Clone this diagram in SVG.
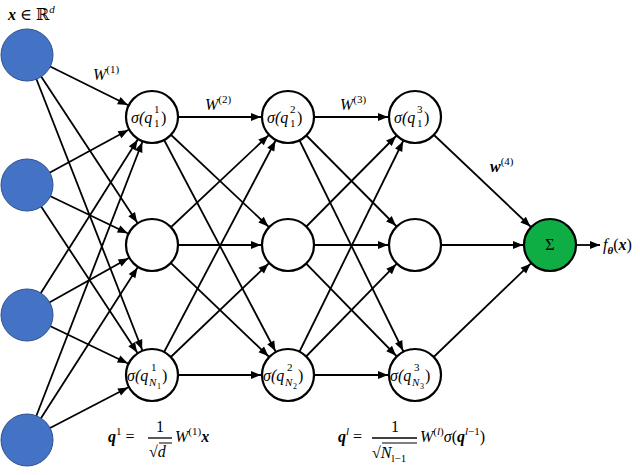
<svg xmlns="http://www.w3.org/2000/svg" width="640" height="475" viewBox="0 0 640 475">
<style>
.c{stroke:#000;stroke-width:2.2;}
.in{fill:#4472c4;stroke:#2f528f;stroke-width:1;}
.h{fill:#fff;}
.o{fill:#0fae45;}
.e line{stroke:#000;stroke-width:1.8;marker-end:url(#a);}
text{font-family:"Liberation Serif","DejaVu Serif",serif;font-style:italic;font-size:16px;fill:#000;}
.up{font-style:normal;}
.b{font-weight:bold;}
.s{font-size:11px;font-style:normal;}
.si{font-size:11px;}
.t{font-size:8px;font-style:normal;}
</style>
<defs>
<marker id="a" markerUnits="userSpaceOnUse" markerWidth="40" markerHeight="10" viewBox="0 0 40 10" refX="37" refY="5" orient="auto" style="overflow:visible"><path d="M0,1 L10,5 L0,9 z" fill="#000"/></marker>
<marker id="b" markerUnits="userSpaceOnUse" markerWidth="10" markerHeight="10" viewBox="0 0 10 10" refX="10" refY="5" orient="auto"><path d="M0,1 L10,5 L0,9 z" fill="#000"/></marker>
</defs>
<g id="connectors" class="e">
<line x1="27" y1="55" x2="152" y2="117"/><line x1="27" y1="55" x2="152" y2="245"/><line x1="27" y1="55" x2="152" y2="375"/>
<line x1="27" y1="185" x2="152" y2="117"/><line x1="27" y1="185" x2="152" y2="245"/><line x1="27" y1="185" x2="152" y2="375"/>
<line x1="27" y1="315" x2="152" y2="117"/><line x1="27" y1="315" x2="152" y2="245"/><line x1="27" y1="315" x2="152" y2="375"/>
<line x1="27" y1="440" x2="152" y2="117"/><line x1="27" y1="440" x2="152" y2="245"/><line x1="27" y1="440" x2="152" y2="375"/>
<line x1="152" y1="117" x2="288" y2="117"/><line x1="152" y1="117" x2="288" y2="245"/><line x1="152" y1="117" x2="288" y2="375"/>
<line x1="152" y1="245" x2="288" y2="117"/><line x1="152" y1="245" x2="288" y2="245"/><line x1="152" y1="245" x2="288" y2="375"/>
<line x1="152" y1="375" x2="288" y2="117"/><line x1="152" y1="375" x2="288" y2="245"/><line x1="152" y1="375" x2="288" y2="375"/>
<line x1="288" y1="117" x2="415" y2="117"/><line x1="288" y1="117" x2="415" y2="245"/><line x1="288" y1="117" x2="415" y2="375"/>
<line x1="288" y1="245" x2="415" y2="117"/><line x1="288" y1="245" x2="415" y2="245"/><line x1="288" y1="245" x2="415" y2="375"/>
<line x1="288" y1="375" x2="415" y2="117"/><line x1="288" y1="375" x2="415" y2="245"/><line x1="288" y1="375" x2="415" y2="375"/>
<line x1="415" y1="117" x2="550" y2="245"/><line x1="415" y1="245" x2="550" y2="245"/><line x1="415" y1="375" x2="550" y2="245"/>
<line x1="577" y1="245" x2="600" y2="245" style="marker-end:url(#b)"/>
</g>
<g id="x1"><circle class="in" cx="27" cy="55" r="26"/></g>
<g id="x2"><circle class="in" cx="27" cy="185" r="26"/></g>
<g id="x3"><circle class="in" cx="27" cy="315" r="26"/></g>
<g id="x4"><circle class="in" cx="27" cy="440" r="26"/></g>
<g id="h11"><circle class="c h" cx="152" cy="117" r="26"/><text x="131" y="123">σ(q</text><text class="s" x="154" y="127">1</text><text class="s" x="154" y="113">1</text><text class="up" x="161" y="123">)</text></g>
<g id="h12"><circle class="c h" cx="152" cy="245" r="26"/></g>
<g id="h13"><circle class="c h" cx="152" cy="375" r="26"/><text x="127" y="381">σ(q</text><text class="si" x="149" y="386">N</text><text class="t" x="157" y="389">1</text><text class="s" x="151" y="371">1</text><text class="up" x="162" y="381">)</text></g>
<g id="h21"><circle class="c h" cx="288" cy="117" r="26"/><text x="267" y="123">σ(q</text><text class="s" x="290" y="127">1</text><text class="s" x="290" y="113">2</text><text class="up" x="297" y="123">)</text></g>
<g id="h22"><circle class="c h" cx="288" cy="245" r="26"/></g>
<g id="h23"><circle class="c h" cx="288" cy="375" r="26"/><text x="263" y="381">σ(q</text><text class="si" x="285" y="386">N</text><text class="t" x="293" y="389">2</text><text class="s" x="287" y="371">2</text><text class="up" x="298" y="381">)</text></g>
<g id="h31"><circle class="c h" cx="415" cy="117" r="26"/><text x="394" y="123">σ(q</text><text class="s" x="417" y="127">1</text><text class="s" x="417" y="113">3</text><text class="up" x="424" y="123">)</text></g>
<g id="h32"><circle class="c h" cx="415" cy="245" r="26"/></g>
<g id="h33"><circle class="c h" cx="415" cy="375" r="26"/><text x="390" y="381">σ(q</text><text class="si" x="412" y="386">N</text><text class="t" x="420" y="389">3</text><text class="s" x="414" y="371">3</text><text class="up" x="425" y="381">)</text></g>
<g id="out"><circle class="c o" cx="550" cy="245" r="26"/><text class="up" x="550" y="250" text-anchor="middle" font-size="14">Σ</text></g>
<g id="labels">
<text x="8" y="20"><tspan class="b">x</tspan><tspan class="up"> ∈ ℝ</tspan><tspan class="si" dy="-7">d</tspan></text>
<text x="93" y="80">W<tspan class="s" dy="-7">(1)</tspan></text>
<text x="205" y="110">W<tspan class="s" dy="-7">(2)</tspan></text>
<text x="340" y="110">W<tspan class="s" dy="-7">(3)</tspan></text>
<text x="490" y="172" class="b">w<tspan class="s" dy="-7" font-weight="normal">(4)</tspan></text>
<text x="603" y="250" font-size="15">f<tspan class="si b" dy="4">θ</tspan><tspan dy="-4" class="up">(</tspan><tspan class="b">x</tspan><tspan class="up">)</tspan></text>
<text x="108" y="442" class="b" font-size="17">q<tspan class="s" font-weight="normal" dy="-7">1</tspan><tspan class="up" font-weight="normal" dy="7"> =</tspan></text>
<text x="160" y="432" class="up" text-anchor="middle">1</text>
<line x1="148" y1="438" x2="172" y2="438" stroke="#000" stroke-width="1.3"/>
<text x="149" y="457" class="up">√<tspan font-style="italic">d</tspan></text>
<line x1="159" y1="443" x2="172" y2="443" stroke="#000" stroke-width="1"/>
<text x="175" y="442" font-size="17">W<tspan class="s" dy="-7">(1)</tspan><tspan class="b" dy="7">x</tspan></text>
<text x="338" y="442" class="b" font-size="17">q<tspan class="si" font-weight="normal" dy="-7">l</tspan><tspan class="up" font-weight="normal" dy="7"> =</tspan></text>
<text x="395" y="432" class="up" text-anchor="middle">1</text>
<line x1="372" y1="438" x2="417" y2="438" stroke="#000" stroke-width="1.3"/>
<text x="372" y="458" class="up">√<tspan font-style="italic">N</tspan><tspan class="si" dy="4">l</tspan><tspan class="s" dy="0">−1</tspan></text>
<line x1="382" y1="443" x2="417" y2="443" stroke="#000" stroke-width="1"/>
<text x="420" y="442" font-size="17">W<tspan class="s" dy="-7">(</tspan><tspan class="si">l</tspan><tspan class="s">)</tspan><tspan dy="7">σ</tspan><tspan class="up">(</tspan><tspan class="b">q</tspan><tspan class="si" dy="-7">l</tspan><tspan class="s">−1</tspan><tspan class="up" dy="7">)</tspan></text>
</g>
</svg>
